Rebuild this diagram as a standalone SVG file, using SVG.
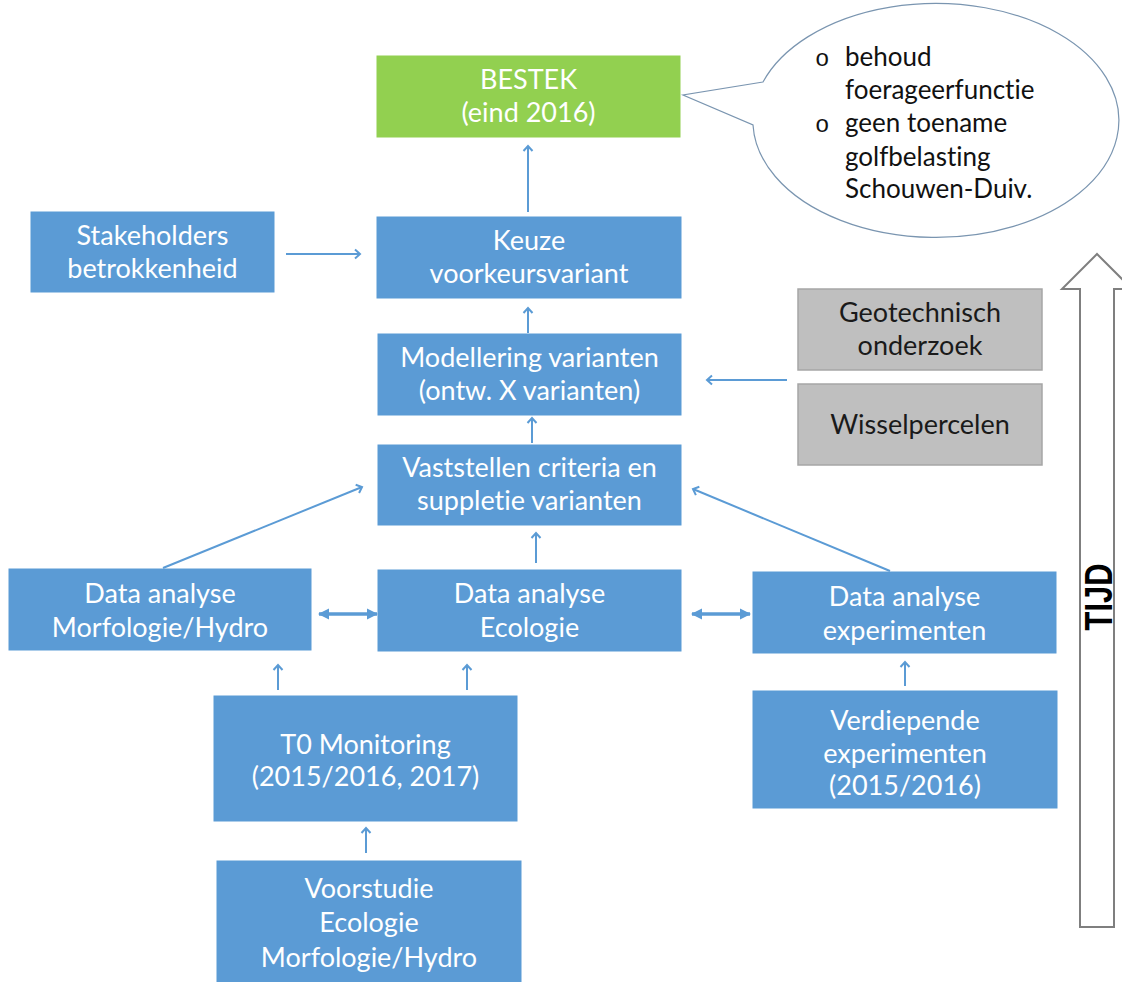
<svg xmlns="http://www.w3.org/2000/svg" width="1122" height="982" viewBox="0 0 1122 982">
<style>
.b{fill:#5B9BD5;stroke:#5B9BD5;stroke-width:1}
.g{fill:#BFBFBF;stroke:#A6A6A6;stroke-width:1.5}
.gr{fill:#92D050;stroke:#92D050;stroke-width:1}
.t{font-family:Lato,"Liberation Sans",sans-serif;font-size:27px;fill:#FFFFFF;text-anchor:middle;font-variant-ligatures:none}
.k{fill:#1a1a1a}
.bt{font-family:Lato,"Liberation Sans",sans-serif;font-size:26px;fill:#111111;font-variant-ligatures:none}
.bu{font-family:"Liberation Mono",monospace;font-size:24px;fill:#111111}
.c{stroke:#5B9BD5;stroke-width:2;fill:none;marker-end:url(#oa)}
.d{stroke:#5B9BD5;stroke-width:3.5;fill:none;marker-end:url(#fa);marker-start:url(#fa)}
</style>
<defs>
<marker id="oa" markerUnits="userSpaceOnUse" markerWidth="12" markerHeight="12" refX="10" refY="6" orient="auto">
<path d="M5,1.5 L10,6 L5,10.5" fill="none" stroke="#5B9BD5" stroke-width="2"/>
</marker>
<marker id="fa" markerUnits="userSpaceOnUse" markerWidth="14" markerHeight="14" refX="11" refY="7" orient="auto-start-reverse">
<path d="M1,1.5 L12,7 L1,12.5 Z" fill="#5B9BD5"/>
</marker>
</defs>
<rect width="1122" height="982" fill="#FFFFFF"/>

<g id="tijd">
<path d="M1080,927 L1080,289 L1062,289 L1097,254 L1132,289 L1114,289 L1114,927 Z" fill="#FFFFFF" stroke="#7F7F7F" stroke-width="2"/>
<text transform="translate(1112,597) rotate(-90)" font-family="Liberation Sans,sans-serif" font-weight="bold" font-size="38" text-anchor="middle" fill="#000000" textLength="67" lengthAdjust="spacingAndGlyphs">TIJD</text>
</g>

<g id="bubble">
<path d="M763,82 L683,95 L753,125 A183,117 0 1 0 763,82 Z" fill="#FFFFFF" stroke="#7A95B0" stroke-width="1.2"/>
<text class="bu" x="815" y="66">o</text><text class="bt" x="845" y="66">behoud</text>
<text class="bt" x="845" y="99">foerageerfunctie</text>
<text class="bu" x="815" y="132">o</text><text class="bt" x="845" y="132">geen toename</text>
<text class="bt" x="845" y="166">golfbelasting</text>
<text class="bt" x="845" y="198">Schouwen-Duiv.</text>
</g>

<g id="bestek"><rect class="gr" x="377" y="56" width="303" height="81"/>
<text class="t" x="528.5" y="89">BESTEK</text><text class="t" x="528.5" y="122">(eind 2016)</text></g>

<g id="keuze"><rect class="b" x="377" y="217" width="304" height="81"/>
<text class="t" x="529" y="250">Keuze</text><text class="t" x="529" y="283">voorkeursvariant</text></g>

<g id="stakeholders"><rect class="b" x="31" y="212" width="243" height="80"/>
<text class="t" x="152.5" y="245">Stakeholders</text><text class="t" x="152.5" y="278">betrokkenheid</text></g>

<g id="modellering"><rect class="b" x="378" y="334" width="303" height="81"/>
<text class="t" x="529.5" y="367">Modellering varianten</text><text class="t" x="529.5" y="400">(ontw. X varianten)</text></g>

<g id="geotechnisch"><rect class="g" x="798" y="289" width="244" height="81"/>
<text class="t k" x="920" y="322">Geotechnisch</text><text class="t k" x="920" y="355">onderzoek</text></g>

<g id="wisselpercelen"><rect class="g" x="798" y="384" width="244" height="81"/>
<text class="t k" x="920" y="434">Wisselpercelen</text></g>

<g id="vaststellen"><rect class="b" x="378" y="445" width="303" height="80"/>
<text class="t" x="529.5" y="477">Vaststellen criteria en</text><text class="t" x="529.5" y="510">suppletie varianten</text></g>

<g id="da-morfologie"><rect class="b" x="9" y="569" width="302" height="81"/>
<text class="t" x="160" y="603">Data analyse</text><text class="t" x="160" y="637">Morfologie/Hydro</text></g>

<g id="da-ecologie"><rect class="b" x="378" y="570" width="303" height="81"/>
<text class="t" x="529.5" y="603">Data analyse</text><text class="t" x="529.5" y="637">Ecologie</text></g>

<g id="da-experimenten"><rect class="b" x="753" y="572" width="303" height="81"/>
<text class="t" x="904.5" y="606">Data analyse</text><text class="t" x="904.5" y="640">experimenten</text></g>

<g id="t0"><rect class="b" x="214" y="696" width="303" height="125"/>
<text class="t" x="365.5" y="754">T0 Monitoring</text><text class="t" x="365.5" y="786">(2015/2016, 2017)</text></g>

<g id="verdiepende"><rect class="b" x="753" y="691" width="304" height="117"/>
<text class="t" x="905" y="730">Verdiepende</text><text class="t" x="905" y="763">experimenten</text><text class="t" x="905" y="795">(2015/2016)</text></g>

<g id="voorstudie"><rect class="b" x="217" y="861" width="304" height="130"/>
<text class="t" x="369" y="898">Voorstudie</text><text class="t" x="369" y="932">Ecologie</text><text class="t" x="369" y="967">Morfologie/Hydro</text></g>

<g id="connectors">
<line class="c" x1="528" y1="212" x2="528" y2="146"/>
<line class="c" x1="286" y1="254" x2="360" y2="254"/>
<line class="c" x1="528" y1="333" x2="528" y2="308"/>
<line class="c" x1="787" y1="380" x2="707" y2="380"/>
<line class="c" x1="532" y1="443" x2="532" y2="418"/>
<line class="c" x1="536" y1="563" x2="536" y2="533"/>
<line class="c" x1="163" y1="568" x2="362" y2="487"/>
<line class="c" x1="890" y1="571" x2="693" y2="489"/>
<line class="d" x1="319" y1="614" x2="377" y2="614"/>
<line class="d" x1="692" y1="614" x2="750" y2="614"/>
<line class="c" x1="278" y1="690" x2="278" y2="665"/>
<line class="c" x1="467" y1="690" x2="467" y2="665"/>
<line class="c" x1="366" y1="853" x2="366" y2="828"/>
<line class="c" x1="905" y1="686" x2="905" y2="662"/>
</g>
</svg>
